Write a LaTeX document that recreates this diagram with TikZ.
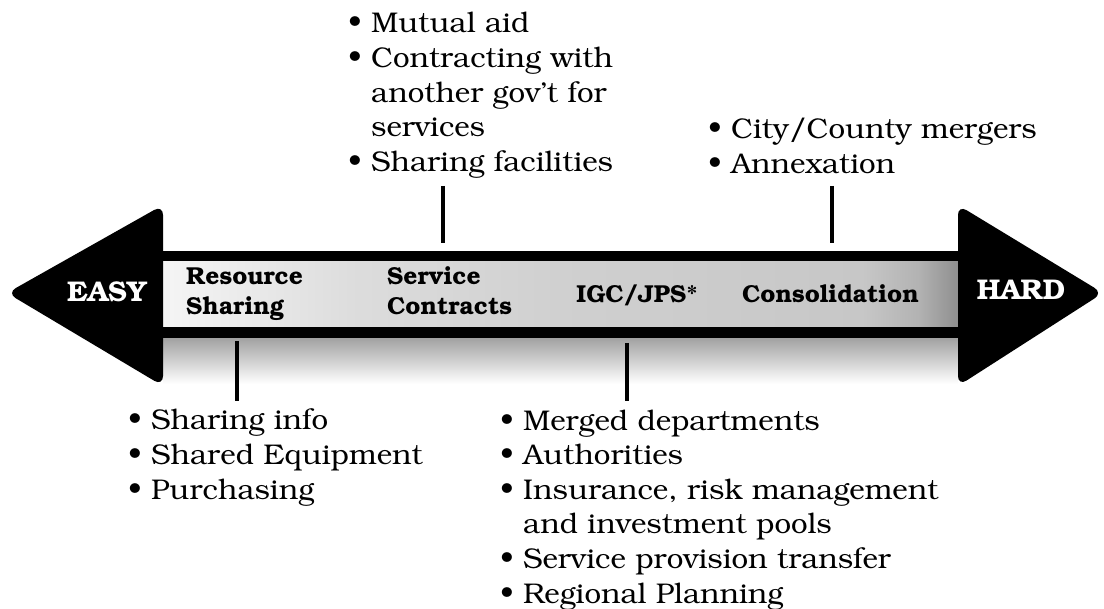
\documentclass[tikz,border=0pt]{standalone}
\usepackage[T1]{fontenc}
\usepackage{bookman}

\pgfdeclarehorizontalshading{barshade}{100bp}{color(0bp)=(white); color(25bp)=(white!96!black); color(37bp)=(gray!27); color(50bp)=(gray!37); color(69bp)=(gray!44); color(72.5bp)=(gray!60); color(75bp)=(gray!88); color(100bp)=(gray!88)}

\tikzstyle{head} = [fill=black, rounded corners=10pt]
\tikzstyle{ends} = [font=\fontsize{28.5}{30}\selectfont\bfseries, text=white, inner sep=0pt]
\tikzstyle{stage} = [font=\fontsize{24.5}{30}\selectfont\bfseries, align=left, inner sep=0pt]
\tikzstyle{items} = [font=\fontsize{28.5}{34.6}\selectfont, align=left, anchor=base west, inner sep=0pt, xscale=1.035, transform shape]
\tikzstyle{tick} = [draw, line width=4.5pt]

\begin{document}
\begin{tikzpicture}[x=1pt, y=-1pt]

  \useasboundingbox (0,0) rectangle (1104,609);

  % shadow under the bar
  \shade[top color=gray!75, bottom color=white] (163,337) rectangle (958,384);

  % the bar and its two heads
  \fill (163,251) rectangle (958,338);
  \shade[shading=barshade] (163,262) rectangle (958,327);
  \path[head] (163,205) -- (7,293) -- (163,386) -- cycle;
  \path[head] (958,205) -- (1103,293) -- (958,386) -- cycle;

  \node[ends, anchor=base] (easy) at (107,302) {EASY};
  \node[ends, anchor=base] (hard) at (1021,300) {HARD};

  % base of a two-line node is its last line
  \node[stage, anchor=base west] (resource) at (186,315) {Resource\\Sharing};
  \node[stage, anchor=base west] (service) at (387,315) {Service\\Contracts};
  \node[stage, anchor=base] (igc) at (637,303) {IGC/JPS*};
  \node[stage, anchor=base west] (consolidation) at (742,303) {Consolidation};

  % lists above and below (placed by their last line)
  \coordinate (aid pos) at (348,171.4);
  \coordinate (merger pos) at (708,173.6);
  \coordinate (info pos) at (128,499.2);
  \coordinate (dept pos) at (500,603);

  \node[items] (aid) at (aid pos) {\textbullet\ Mutual aid\\
    \textbullet\ Contracting with\\
    \hphantom{\textbullet\ }another gov't for\\
    \hphantom{\textbullet\ }services\\
    \textbullet\ Sharing facilities};
  \node[items] (merger) at (merger pos) {\textbullet\ City/County mergers\\
    \textbullet\ Annexation};
  \node[items] (info) at (info pos) {\textbullet\ Sharing info\\
    \textbullet\ Shared Equipment\\
    \textbullet\ Purchasing};
  \node[items] (dept) at (dept pos) {\textbullet\ Merged departments\\
    \textbullet\ Authorities\\
    \textbullet\ Insurance, risk management\\
    \hphantom{\textbullet\ }and investment pools\\
    \textbullet\ Service provision transfer\\
    \textbullet\ Regional Planning};

  % ticks
  \coordinate (aid top) at (443,186);
  \coordinate (aid end) at (443,243);
  \coordinate (merger top) at (832,186);
  \coordinate (merger end) at (832,243);
  \coordinate (info top) at (237,341);
  \coordinate (info end) at (237,401);
  \coordinate (dept top) at (627,343);
  \coordinate (dept end) at (627,401);

  \path[tick] (aid top) -- (aid end);
  \path[tick] (merger top) -- (merger end);
  \path[tick] (info top) -- (info end);
  \path[tick] (dept top) -- (dept end);

\end{tikzpicture}
\end{document}
